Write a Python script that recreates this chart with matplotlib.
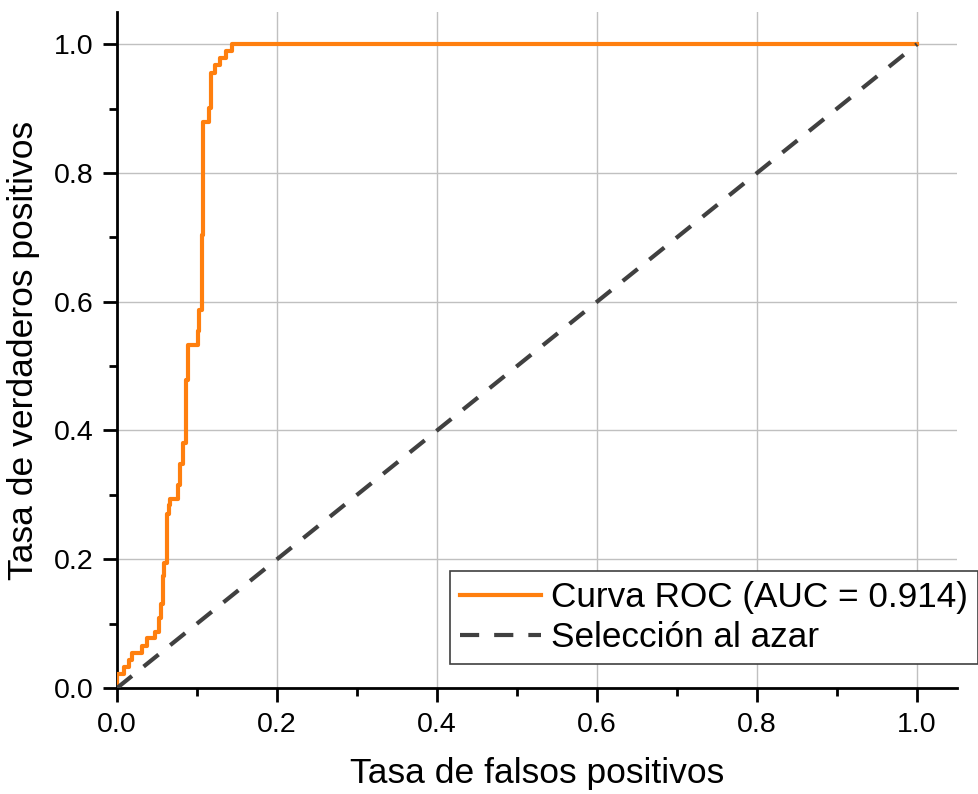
import matplotlib
matplotlib.use("Agg")
import matplotlib.pyplot as plt
from matplotlib.ticker import MultipleLocator

plt.rcParams['font.family'] = ['Liberation Sans', 'DejaVu Sans']

# ROC curve points (step curve)
fpr = [0.0, 0.0, 0.009, 0.009, 0.0155, 0.0155, 0.019, 0.019, 0.031, 0.031, 0.038, 0.038,
       0.047, 0.047, 0.0525, 0.0525, 0.055, 0.055, 0.0576, 0.0576, 0.059, 0.059, 0.062, 0.062,
       0.0647, 0.0647, 0.066, 0.066, 0.076, 0.076, 0.079, 0.079, 0.082, 0.082, 0.0865, 0.0865,
       0.0885, 0.0885, 0.1007, 0.1007, 0.103, 0.103, 0.106, 0.106, 0.1078, 0.1078, 0.115, 0.115,
       0.117, 0.117, 0.123, 0.123, 0.1287, 0.1287, 0.1366, 0.1366, 0.144, 0.144, 1.0]
tpr = [0.0, 0.022, 0.022, 0.033, 0.033, 0.043, 0.043, 0.055, 0.055, 0.066, 0.066, 0.077,
       0.077, 0.087, 0.087, 0.109, 0.109, 0.130, 0.130, 0.174, 0.174, 0.194, 0.194, 0.271,
       0.271, 0.284, 0.284, 0.293, 0.293, 0.316, 0.316, 0.348, 0.348, 0.381, 0.381, 0.478,
       0.478, 0.533, 0.533, 0.555, 0.555, 0.587, 0.587, 0.704, 0.704, 0.879, 0.879, 0.901,
       0.901, 0.956, 0.956, 0.967, 0.967, 0.978, 0.978, 0.989, 0.989, 1.0, 1.0]
diag = [0.0, 1.0]
roc_label = "Curva ROC (AUC = 0.914)"
diag_label = "Selección al azar"
ticks = [0.0, 0.2, 0.4, 0.6, 0.8, 1.0]

fig = plt.figure(figsize=(9.79, 7.94), dpi=100)
ax = fig.add_axes([117/979, 106/794, 840/979, 676/794])

ax.plot(fpr, tpr, color='#ff7f0e', lw=3, label=roc_label, zorder=3)
ax.plot(diag, diag, color='#404040', lw=3, ls=(0, (4.6, 3.6)), label=diag_label, zorder=3)

ax.set_xlim(0, 1.05)
ax.set_ylim(0, 1.05)
ax.set_xticks(ticks)
ax.set_yticks(ticks)
ax.set_xticklabels([f"{t:.1f}" for t in ticks])
ax.set_yticklabels([f"{t:.1f}" for t in ticks])
ax.xaxis.set_minor_locator(MultipleLocator(0.1))
ax.yaxis.set_minor_locator(MultipleLocator(0.1))
ax.grid(True, which='major', color='#c0c0c0', lw=1, zorder=0)
ax.set_axisbelow(True)

for s in ['top', 'right']:
    ax.spines[s].set_visible(False)
for s in ['left', 'bottom']:
    ax.spines[s].set_linewidth(2)
ax.tick_params(which='major', direction='out', length=10, width=2, labelsize=20.5, pad=7)
ax.tick_params(which='minor', direction='out', length=6, width=2)

ax.set_xlabel("Tasa de falsos positivos", fontsize=25.5, labelpad=14)
ax.set_ylabel("Tasa de verdaderos positivos", fontsize=25.5, labelpad=10)

leg = ax.legend(loc='lower right', bbox_to_anchor=(978/979, (794-664)/794),
                bbox_transform=fig.transFigure, fontsize=25.3, frameon=True,
                fancybox=False, framealpha=1, edgecolor='#404040',
                handlelength=2.3, handletextpad=0.3, borderpad=0.28,
                labelspacing=0.2, borderaxespad=0)
leg.get_frame().set_linewidth(1.2)

fig.savefig("out.png", dpi=100)
